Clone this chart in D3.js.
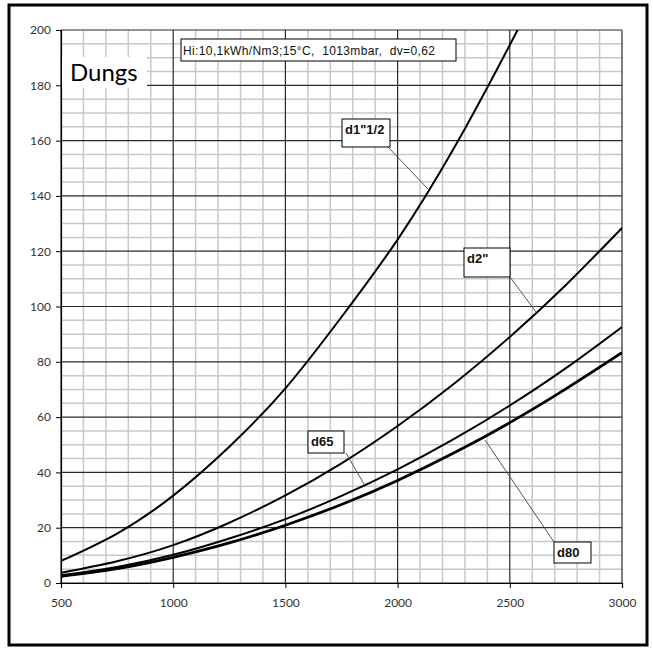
<!DOCTYPE html>
<html>
<head>
<meta charset="utf-8">
<script src="https://cdn.jsdelivr.net/npm/d3@7"></script>
<style>
  body { margin: 0; background: #fff; }
</style>
</head>
<body>
<svg id="chart"></svg>
<script>
const width = 653, height = 652;
const grid_major = "#2a2a2a", grid_minor = "#c8c8c8", text_color = "#333";
const font_family = "Lato, 'Open Sans', sans-serif";

// flow [m3/h] vs pressure drop
const flowTicks = [500, 1000, 1500, 2000, 2500, 3000];
const dropTicks = [0, 20, 40, 60, 80, 100, 120, 140, 160, 180, 200];

const flow = [500, 750, 1000, 1250, 1500, 1750, 2000, 2250, 2500, 2750, 3000];
const d1_5 = [8, 17.9, 31.6, 49.3, 70.4, 96.2, 124.2, 157.1, 194.6, 235, 280];
const d2 = [3.7, 7.9, 13.7, 21.8, 31.7, 43.3, 56.8, 72.0, 89, 107.8, 128.4];
const d65 = [2.8, 5.8, 10.2, 16.1, 23.1, 31.5, 41.1, 52.0, 64.2, 77.7, 92.6];
const d80 = [2.4, 5.2, 9.3, 14.5, 20.9, 28.4, 37.1, 47.0, 58.0, 70.2, 83.3];

const series = [
  { name: 'd1"1/2', values: d1_5, width: 2 },
  { name: 'd2"', values: d2, width: 2 },
  { name: "d65", values: d65, width: 2 },
  { name: "d80", values: d80, width: 2.8 }
];

const svg = d3.select("#chart").attr("width", width).attr("height", height);

// outer frame
svg.append("rect")
  .attr("x", 9).attr("y", 5)
  .attr("width", 638).attr("height", 640)
  .attr("fill", "#fff").attr("stroke", "#000").attr("stroke-width", 3);

const x = d3.scaleLinear().domain([500, 3000]).range([61, 622]);
const y = d3.scaleLinear().domain([0, 200]).range([583, 30]);

////////////////////////////////////
//              Grid              //
////////////////////////////////////

const minorX = d3.range(600, 3000, 100).filter(v => v % 500 !== 0);
const minorY = d3.range(5, 200, 5).filter(v => v % 20 !== 0);

svg.append("g").selectAll("line")
  .data(minorX).enter().append("line")
  .attr("x1", d => x(d)).attr("x2", d => x(d))
  .attr("y1", y(0)).attr("y2", y(200))
  .attr("stroke", grid_minor).attr("stroke-width", 1.5);

svg.append("g").selectAll("line")
  .data(minorY).enter().append("line")
  .attr("x1", x(500)).attr("x2", x(3000))
  .attr("y1", d => y(d)).attr("y2", d => y(d))
  .attr("stroke", grid_minor).attr("stroke-width", 1.5);

svg.append("g").selectAll("line")
  .data(flowTicks).enter().append("line")
  .attr("x1", d => x(d)).attr("x2", d => x(d))
  .attr("y1", y(0)).attr("y2", y(200))
  .attr("stroke", grid_major).attr("stroke-width", 1.2);

svg.append("g").selectAll("line")
  .data(dropTicks).enter().append("line")
  .attr("x1", x(500)).attr("x2", x(3000))
  .attr("y1", d => y(d)).attr("y2", d => y(d))
  .attr("stroke", grid_major).attr("stroke-width", 1.2);

////////////////////////////////////
//              Axes              //
////////////////////////////////////

const xAxis = svg.append("g")
  .attr("transform", `translate(0,${y(0)})`)
  .call(d3.axisBottom(x).tickValues(flowTicks).tickSize(5).tickPadding(10).tickFormat(d3.format("d")));
const yAxis = svg.append("g")
  .attr("transform", `translate(${x(500)},0)`)
  .call(d3.axisLeft(y).tickValues(dropTicks).tickSize(5).tickPadding(5).tickFormat(d3.format("d")));

[xAxis, yAxis].forEach(g => {
  g.select(".domain").attr("stroke", "#000").attr("stroke-width", 1.2);
  g.selectAll(".tick line").attr("stroke", "#000");
  g.selectAll("text")
    .attr("font-family", font_family)
    .attr("font-size", "12px")
    .attr("fill", text_color);
});

////////////////////////////////////
//             Curves             //
////////////////////////////////////

svg.append("clipPath").attr("id", "plot-clip")
  .append("rect").attr("x", x(500)).attr("y", y(200))
  .attr("width", x(3000) - x(500)).attr("height", y(0) - y(200));

const line = d3.line()
  .x((d, i) => x(flow[i]))
  .y(d => y(d))
  .curve(d3.curveNatural);

svg.append("g").attr("clip-path", "url(#plot-clip)")
  .selectAll("path")
  .data(series).enter().append("path")
  .attr("d", d => line(d.values))
  .attr("fill", "none")
  .attr("stroke", "#000")
  .attr("stroke-width", d => d.width);

////////////////////////////////////
//        Labels & leaders        //
////////////////////////////////////

const labels = [
  { text: 'd1"1/2', box: [342, 119, 48, 28], from: [388, 147], to: [428, 189] },
  { text: 'd2"', box: [464, 248, 46, 29], from: [510, 277], to: [536, 312] },
  { text: "d65", box: [308, 431, 36, 22], from: [346, 453], to: [364, 484] },
  { text: "d80", box: [554, 542, 37, 21], from: [554, 542], to: [485, 440] }
];

labels.forEach(l => {
  svg.append("line")
    .attr("x1", l.from[0]).attr("y1", l.from[1])
    .attr("x2", l.to[0]).attr("y2", l.to[1])
    .attr("stroke", "#555").attr("stroke-width", 1);
  svg.append("rect")
    .attr("x", l.box[0]).attr("y", l.box[1])
    .attr("width", l.box[2]).attr("height", l.box[3])
    .attr("fill", "#fff").attr("stroke", "#000").attr("stroke-width", 1);
  svg.append("text")
    .attr("x", l.box[0] + 3).attr("y", l.box[1] + 15)
    .attr("font-family", "'Liberation Sans', Arial, sans-serif")
    .attr("font-weight", "bold")
    .attr("font-size", "13px")
    .attr("fill", "#111")
    .text(l.text);
});

// title blocks
svg.append("rect")
  .attr("x", 62).attr("y", 57).attr("width", 85).attr("height", 31)
  .attr("fill", "#fff");
svg.append("text")
  .attr("x", 70).attr("y", 81)
  .attr("font-family", font_family)
  .attr("font-size", "24px")
  .attr("fill", "#000")
  .text("Dungs");

svg.append("rect")
  .attr("x", 181).attr("y", 39).attr("width", 275).attr("height", 22)
  .attr("fill", "#fff").attr("stroke", "#000").attr("stroke-width", 1);
svg.append("text")
  .attr("x", 183).attr("y", 55)
  .attr("font-family", "'Liberation Sans', Arial, sans-serif")
  .attr("font-size", "12px")
  .attr("textLength", 252)
  .style("white-space", "pre")
  .attr("fill", "#111")
  .text("Hi:10,1kWh/Nm3;15°C,  1013mbar,  dv=0,62");
</script>
</body>
</html>
